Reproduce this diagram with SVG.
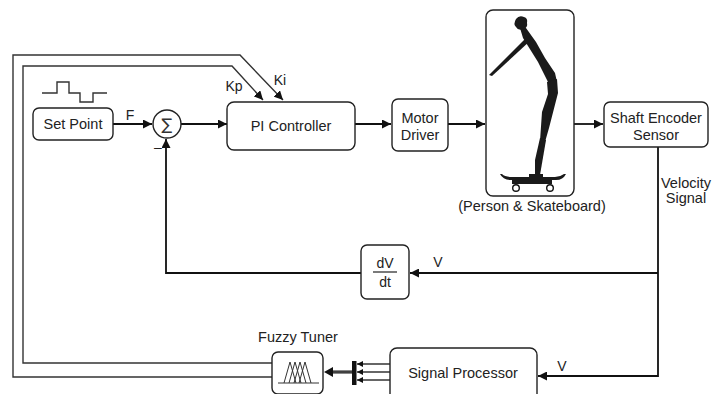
<svg xmlns="http://www.w3.org/2000/svg" width="714" height="394" viewBox="0 0 714 394">
  <defs>
    <marker id="arr" viewBox="0 0 10 10" refX="10" refY="5" markerWidth="9" markerHeight="9" markerUnits="userSpaceOnUse" orient="auto">
      <path d="M0,0 L10,5 L0,10 Z" fill="#111"/>
    </marker>
    <marker id="arrs" viewBox="0 0 10 10" refX="10" refY="5" markerWidth="6" markerHeight="6" markerUnits="userSpaceOnUse" orient="auto">
      <path d="M0,0 L10,5 L0,10 Z" fill="#111"/>
    </marker>
    <style>
      .box { fill: #fff; stroke: #222; stroke-width: 1.4; }
      .txt { font-family: "Liberation Sans", Arial, sans-serif; font-size: 14.5px; fill: #222; text-anchor: middle; }
      .lbl { font-family: "Liberation Sans", Arial, sans-serif; font-size: 14px; fill: #222; text-anchor: middle; }
      .wire { fill: none; stroke: #111; stroke-width: 1.8; }
      .thin { fill: none; stroke: #333; stroke-width: 1.4; }
    </style>
  </defs>

  <rect width="714" height="394" fill="#fff"/>

  <!-- connectors -->
  <g id="connectors">
    <!-- gain schedule lines from fuzzy tuner back to PI gains -->
    <polyline class="thin" points="272,377 13,377 13,55 240,55 283,100" marker-end="url(#arr)"/>
    <polyline class="thin" points="272,363 23,363 23,66 232,66 263,100" marker-end="url(#arr)"/>
    <!-- forward path -->
    <line class="wire" x1="113" y1="124" x2="152" y2="124" marker-end="url(#arr)"/>
    <line class="wire" x1="181" y1="124" x2="227" y2="124" marker-end="url(#arr)"/>
    <line class="wire" x1="355" y1="124" x2="391" y2="124" marker-end="url(#arr)"/>
    <line class="wire" x1="448" y1="124" x2="485" y2="124" marker-end="url(#arr)"/>
    <line class="wire" x1="574" y1="124" x2="603" y2="124" marker-end="url(#arr)"/>
    <!-- velocity signal feedback -->
    <polyline class="wire" points="658,147 658,376 538,376" marker-end="url(#arr)"/>
    <polyline class="wire" points="658,273 410,273" marker-end="url(#arr)"/>
    <polyline class="wire" points="361,273 166,273 166,139" marker-end="url(#arr)"/>
    <!-- signal processor outputs into the mux -->
    <line class="thin" x1="390" y1="364" x2="357" y2="364" marker-end="url(#arrs)"/>
    <line class="thin" x1="390" y1="372" x2="357" y2="372" marker-end="url(#arrs)"/>
    <line class="thin" x1="390" y1="380" x2="357" y2="380" marker-end="url(#arrs)"/>
    <rect x="352" y="361" width="4.5" height="24" fill="#111"/>
    <!-- bus from mux to fuzzy tuner -->
    <line x1="352" y1="372" x2="332" y2="372" stroke="#888" stroke-width="4"/>
    <line x1="352" y1="372" x2="332" y2="372" stroke="#111" stroke-width="1.2"/>
    <path d="M324,372 L333,367 L333,377 Z" fill="#111"/>
  </g>

  <!-- labels on connectors -->
  <g id="labels">
    <text class="lbl" x="130" y="120">F</text>
    <text class="lbl" x="158" y="152">–</text>
    <text class="lbl" x="234" y="91">Kp</text>
    <text class="lbl" x="280" y="85">Ki</text>
    <text class="lbl" x="438" y="267">V</text>
    <text class="lbl" x="562" y="371">V</text>
    <text class="txt" x="686" y="188">Velocity</text>
    <text class="txt" x="686" y="203">Signal</text>
  </g>

  <!-- step input waveform -->
  <g id="waveform">
    <polyline class="thin" points="42,93 57,93 57,82 69,82 69,93 80,93 80,102 93,102 93,93 107,93"/>
  </g>

  <g id="setpoint">
    <rect class="box" x="33" y="108" width="80" height="32" rx="6"/>
    <text class="txt" x="73" y="129">Set Point</text>
  </g>

  <g id="sum">
    <circle cx="167" cy="124" r="14" fill="#fff" stroke="#222" stroke-width="1.4"/>
    <text x="167" y="130" font-family="'DejaVu Sans', sans-serif" font-size="16" fill="#333" text-anchor="middle">∑</text>
  </g>

  <g id="pi-controller">
    <rect class="box" x="227" y="102" width="128" height="48" rx="7"/>
    <text class="txt" x="291" y="131">PI Controller</text>
  </g>

  <g id="motor-driver">
    <rect class="box" x="392" y="99" width="56" height="52" rx="6"/>
    <text class="txt" x="420" y="123">Motor</text>
    <text class="txt" x="420" y="140">Driver</text>
  </g>

  <g id="person-skateboard">
    <rect class="box" x="486" y="10" width="88" height="186" rx="7"/>
    <!-- rider silhouette -->
    <g fill="#1a1a1a">
      <path d="M516,19 Q519,15 524,17 Q528,18 527,23 Q528,27 524,29 Q518,31 516,27 Q513,24 516,19 Z"/>
      <path d="M520,28 L526,28 L536,42 L545,58 L555,73 L557,82 L549,84 L538,62 L523,38 Z"/>
      <path d="M528,36 L531,40 L492,76 L489,75 Z"/>
      <path d="M547,82 L557,79 L558,93 L549,128 L545,142 L540,141 L542,112 L548,94 Z"/>
      <path d="M540,138 L546,140 L540,175 L535,176 L535,160 Z"/>
      <path d="M529,174 L543,174 L543,178 L529,178 Z"/>
      <!-- board -->
      <path d="M500,174 Q503,180 511,180 L556,180 Q563,180 566,174 L564,174 Q560,177 555,177 L512,177 Q505,177 502,174 Z"/>
      <rect x="512" y="179" width="40" height="5"/>
    </g>
    <circle cx="516" cy="188" r="3.3" fill="#fff" stroke="#111" stroke-width="1.4"/>
    <circle cx="550" cy="188" r="3.3" fill="#fff" stroke="#111" stroke-width="1.4"/>
    <text class="txt" x="532" y="211">(Person &amp; Skateboard)</text>
  </g>

  <g id="shaft-encoder">
    <rect class="box" x="604" y="102" width="104" height="45" rx="6"/>
    <text class="txt" x="656" y="123">Shaft Encoder</text>
    <text class="txt" x="656" y="140">Sensor</text>
  </g>

  <g id="derivative">
    <rect class="box" x="361" y="245" width="48" height="54" rx="6"/>
    <text class="lbl" x="385" y="268">dV</text>
    <line x1="373" y1="272" x2="397" y2="272" stroke="#222" stroke-width="1.2"/>
    <text class="lbl" x="385" y="287">dt</text>
  </g>

  <g id="fuzzy-tuner">
    <text class="txt" x="298" y="342">Fuzzy Tuner</text>
    <rect class="box" x="272" y="352" width="51" height="42" rx="6"/>
    <g fill="none" stroke="#333" stroke-width="1">
      <line x1="278" y1="383" x2="319" y2="383"/>
      <polyline points="284,383 290,362 296,383"/>
      <polyline points="289,383 295,362 301,383"/>
      <polyline points="294,383 300,362 306,383"/>
      <polyline points="299,383 305,362 311,383"/>
    </g>
  </g>

  <g id="signal-processor">
    <rect class="box" x="390" y="348" width="147" height="56" rx="7"/>
    <text class="txt" x="463" y="378">Signal Processor</text>
  </g>
</svg>
